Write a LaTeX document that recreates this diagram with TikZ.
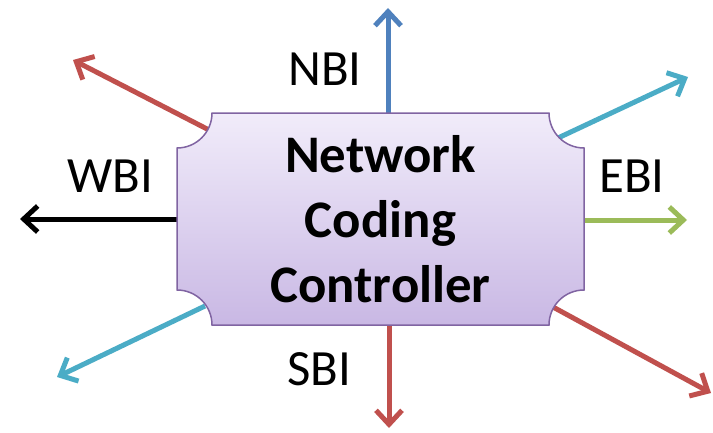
\documentclass[tikz,border=0pt]{standalone}
\usepackage{fontspec}
\setmainfont{Carlito}
\usetikzlibrary{arrows.meta}
\definecolor{cblue}{RGB}{79,129,189}
\definecolor{cred}{RGB}{192,80,77}
\definecolor{ccyan}{RGB}{75,172,198}
\definecolor{cgreen}{RGB}{155,187,89}
\definecolor{cpurple}{RGB}{128,100,162}
\definecolor{ctop}{RGB}{241,236,250}
\definecolor{cbot}{RGB}{201,184,228}
\tikzset{
  iface/.style={line width=5bp, -{Straight Barb[length=14bp,width=26bp]}},
  lbl/.style={anchor=base, inner sep=0pt, font=\fontsize{51}{60}\selectfont},
  title/.style={align=center, inner sep=0pt, font=\fontsize{53}{65}\selectfont\bfseries}
}
\begin{document}
\begin{tikzpicture}[x=1bp,y=1bp]
\useasboundingbox (0,0) rectangle (713,432);
% arrow coordinates
\coordinate (nS) at (388,316);  \coordinate (nT) at (388,424);
\coordinate (sS) at (389,110);  \coordinate (sT) at (389,4);
\coordinate (wS) at (180,213);  \coordinate (wT) at (20,213);
\coordinate (eS) at (581,212);  \coordinate (eT) at (687,212);
\coordinate (nwS) at (209,302); \coordinate (nwT) at (73,372);
\coordinate (neS) at (558,294); \coordinate (neT) at (688,355);
\coordinate (swS) at (205,126); \coordinate (swT) at (57,55);
\coordinate (seS) at (553,125); \coordinate (seT) at (711,39);
\draw[iface,cblue]  (nS) -- (nT);
\draw[iface,cred]   (sS) -- (sT);
\draw[iface,black]  (wS) -- (wT);
\draw[iface,cgreen] (eS) -- (eT);
\draw[iface,cred]   (nwS) -- (nwT);
\draw[iface,ccyan]  (neS) -- (neT);
\draw[iface,ccyan]  (swS) -- (swT);
\draw[iface,cred]   (seS) -- (seT);
% controller box
\draw[cpurple, line width=1.5bp, top color=ctop, bottom color=cbot]
  (212,319) -- (549,319) arc[start angle=180, end angle=270, radius=35]
  -- (584,142) arc[start angle=90, end angle=180, radius=35]
  -- (212,107) arc[start angle=0, end angle=90, radius=35]
  -- (177,284) arc[start angle=270, end angle=360, radius=35] -- cycle;
\node[title] (ncc) at (380.5,213) {Network\\Coding\\Controller};
% labels
\node[lbl] (nbi) at (325,347) {NBI};
\node[lbl] (sbi) at (319,47) {SBI};
\node[lbl] (ebi) at (632,240) {EBI};
\node[lbl] (wbi) at (110.5,240) {WBI};
\end{tikzpicture}
\end{document}
